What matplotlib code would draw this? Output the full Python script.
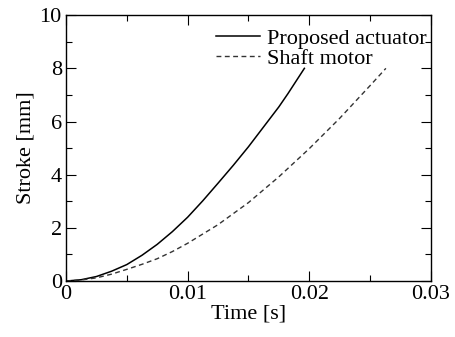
import matplotlib
matplotlib.use("Agg")
import matplotlib.pyplot as plt
from matplotlib.ticker import MultipleLocator

plt.rcParams['font.family'] = ['Liberation Serif', 'DejaVu Serif']

# Data
t_prop = [0, 0.00125, 0.0025, 0.00375, 0.005, 0.00625, 0.0075, 0.00875, 0.01,
          0.01125, 0.0125, 0.01375, 0.015, 0.01625, 0.0175, 0.01825, 0.0196]
s_prop = [0, 0.05, 0.17, 0.37, 0.62, 0.97, 1.38, 1.86, 2.40,
          3.02, 3.68, 4.35, 5.05, 5.80, 6.55, 7.05, 8.0]
t_shaft = [0, 0.00125, 0.0025, 0.00375, 0.005, 0.00625, 0.0075, 0.00875, 0.01,
           0.0125, 0.015, 0.0175, 0.02, 0.0225, 0.025, 0.0263]
s_shaft = [0, 0.04, 0.12, 0.26, 0.44, 0.63, 0.84, 1.11, 1.42,
           2.12, 2.95, 3.92, 4.98, 6.12, 7.35, 8.0]
labels = ["Proposed actuator", "Shaft motor"]
xticks = [0, 0.01, 0.02, 0.03]
xticklabels = ["0", "0.01", "0.02", "0.03"]
yticks = [0, 2, 4, 6, 8, 10]

fig = plt.figure(figsize=(4.55, 3.37), dpi=100)
ax = fig.add_axes([0.145, 0.166, 0.802, 0.789])
ax.plot(t_prop, s_prop, color='black', lw=1.1, label=labels[0])
ax.plot(t_shaft, s_shaft, color='#333333', lw=1.0, ls=(0, (3.5, 2.5)), label=labels[1])

ax.set_xlim(0, 0.03)
ax.set_ylim(0, 10)
ax.set_xticks(xticks)
ax.set_xticklabels(xticklabels)
ax.set_yticks(yticks)
ax.xaxis.set_minor_locator(MultipleLocator(0.005))
ax.yaxis.set_minor_locator(MultipleLocator(1))
ax.tick_params(which='both', direction='in', top=True, right=True, labelsize=16)
ax.tick_params(axis='x', pad=3)
ax.tick_params(axis='y', pad=3)
ax.tick_params(which='major', length=7, width=0.8)
ax.tick_params(which='minor', length=4, width=0.8)
for sp in ax.spines.values():
    sp.set_linewidth(1.0)
ax.set_xlabel("Time [s]", fontsize=16, labelpad=0)
ax.set_ylabel("Stroke [mm]", fontsize=16, labelpad=3)

ax.legend(loc='upper right', frameon=False, fontsize=16, handlelength=2.0,
          handletextpad=0.3, labelspacing=0.0, borderaxespad=0.0,
          bbox_to_anchor=(1.012, 0.985))

fig.savefig("out.png", dpi=100)
